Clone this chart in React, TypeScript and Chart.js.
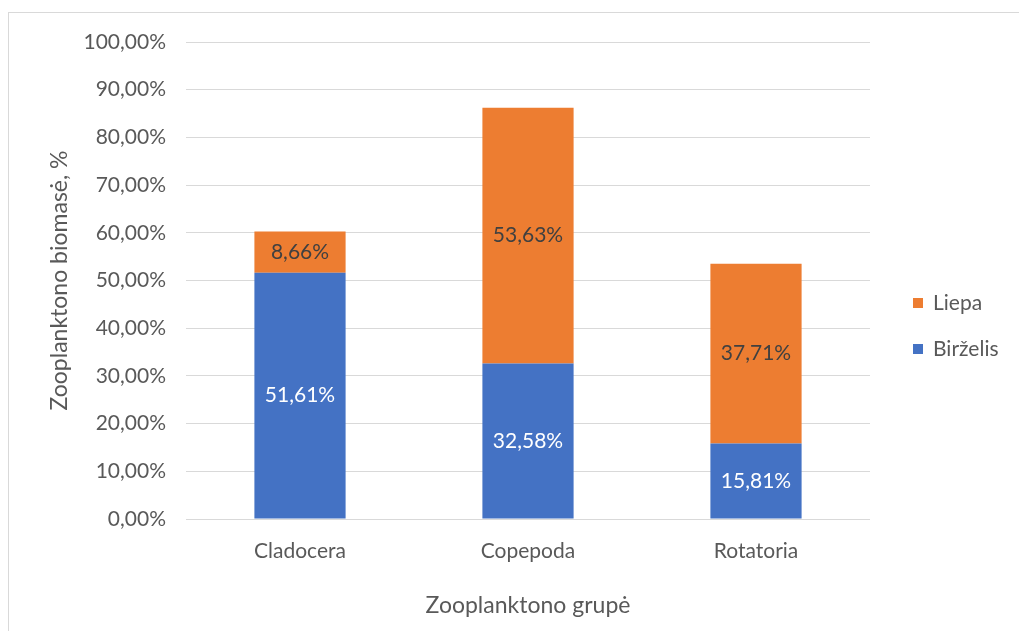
import React, { useEffect, useRef } from "react";
import { Chart, registerables } from "chart.js";

Chart.register(...registerables);

const categories = ["Cladocera", "Copepoda", "Rotatoria"];
const birzelis = [51.61, 32.58, 15.81];
const liepa = [8.66, 53.63, 37.71];
const seriesNames = ["Birželis", "Liepa"];
const seriesColors = ["#4472C4", "#ED7D31"];
const labelColors = ["#FFFFFF", "#404040"];
const yTitle = "Zooplanktono biomasė, %";
const xTitle = "Zooplanktono grupė";

const FONT = "Lato, 'Open Sans', sans-serif";
const fmt = (v: number) => v.toFixed(2).replace(".", ",") + "%";

const dataLabelPlugin = {
  id: "dataLabels",
  afterDatasetsDraw(chart: any) {
    const ctx = chart.ctx;
    ctx.save();
    ctx.font = `21px ${FONT}`;
    ctx.textAlign = "center";
    ctx.textBaseline = "middle";
    chart.data.datasets.forEach((ds: any, di: number) => {
      const meta = chart.getDatasetMeta(di);
      meta.data.forEach((bar: any, i: number) => {
        const { x, y, base } = bar.getProps(["x", "y", "base"], true);
        ctx.fillStyle = labelColors[di];
        ctx.fillText(fmt(ds.data[i]), x, (y + base) / 2);
      });
    });
    ctx.restore();
  },
};

const legendPlugin = {
  id: "customLegend",
  afterDraw(chart: any) {
    const ctx = chart.ctx;
    const area = chart.chartArea;
    ctx.save();
    ctx.font = `21px ${FONT}`;
    ctx.textBaseline = "middle";
    ctx.textAlign = "left";
    const order = [1, 0];
    const x0 = area.right + 43;
    const y0 = area.top + 261;
    order.forEach((di, k) => {
      const y = y0 + k * 46;
      ctx.fillStyle = seriesColors[di];
      ctx.fillRect(x0, y - 5, 10, 10);
      ctx.fillStyle = "#595959";
      ctx.fillText(seriesNames[di], x0 + 20, y);
    });
    ctx.restore();
  },
};

export default function App() {
  const ref = useRef<HTMLCanvasElement>(null);
  useEffect(() => {
    if (!ref.current) return;
    const chart = new Chart(ref.current, {
      type: "bar",
      data: {
        labels: categories,
        datasets: [
          { label: seriesNames[0], data: birzelis, backgroundColor: seriesColors[0], categoryPercentage: 1, barPercentage: 0.4 },
          { label: seriesNames[1], data: liepa, backgroundColor: seriesColors[1], categoryPercentage: 1, barPercentage: 0.4 },
        ],
      },
      options: {
        animation: false,
        responsive: false,
        maintainAspectRatio: false,
        layout: { padding: { left: 46, right: 149, top: 42, bottom: 12 } },
        plugins: {
          legend: { display: false },
          tooltip: { enabled: false },
        },
        scales: {
          x: {
            stacked: true,
            grid: { display: false },
            border: { display: false },
            ticks: { color: "#595959", font: { family: FONT, size: 21 }, padding: 12 },
            title: { display: true, text: xTitle, color: "#595959", font: { family: FONT, size: 23 }, padding: { top: 18, bottom: 0 } },
            afterFit: (s: any) => { s.height = 100; },
          },
          y: {
            stacked: true,
            min: 0,
            max: 100,
            grid: { color: "#d9d9d9", lineWidth: 1, drawTicks: false },
            border: { display: false },
            ticks: {
              stepSize: 10,
              color: "#595959",
              font: { family: FONT, size: 21 },
              padding: 20,
              callback: (v: any) => fmt(Number(v)),
            },
            title: { display: true, text: yTitle, color: "#595959", font: { family: FONT, size: 23 }, padding: { top: 0, bottom: 14 } },
            afterFit: (s: any) => { s.width = 140; },
          },
        },
      },
      plugins: [dataLabelPlugin, legendPlugin],
    });
    return () => chart.destroy();
  }, []);

  return (
    <div style={{ position: "fixed", left: 0, top: 0, width: 1019, height: 631, background: "#fff", overflow: "hidden" }}>
      <div style={{ position: "absolute", left: 8, top: 12, width: 1100, height: 700, borderTop: "1px solid #d9d9d9", borderLeft: "1px solid #d9d9d9" }} />
      <canvas ref={ref} width={1019} height={631} style={{ position: "absolute", left: 0, top: 0 }} />
    </div>
  );
}
